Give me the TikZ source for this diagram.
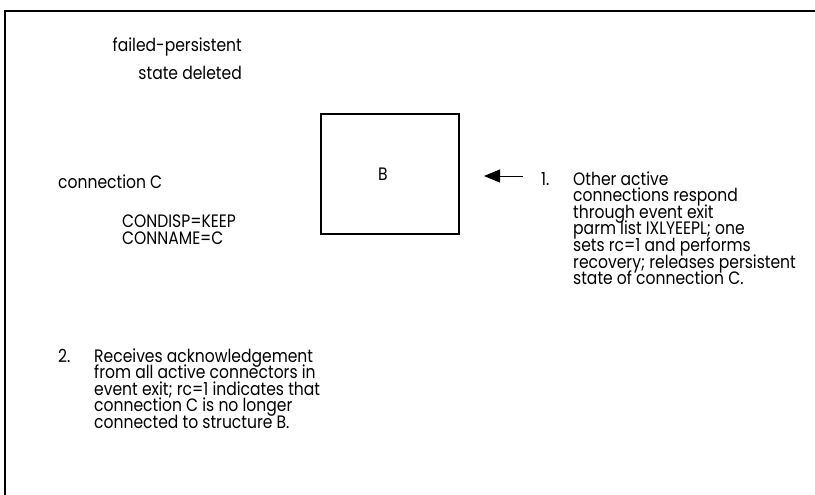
\documentclass[tikz,border=0pt]{standalone}
\usepackage{fontspec}
\setmainfont{Poppins}[FakeStretch=0.865]
\usetikzlibrary{arrows.meta}
\begin{document}
\begin{tikzpicture}[x=1pt,y=-1pt,
  lbl/.style={inner sep=0pt, font={\fontsize{18}{16.6}\selectfont\lineskiplimit=-50pt\relax}},
  para/.style={lbl, align=left, anchor=base west},
  frame/.style={line width=1.8pt, line cap=rect},
  boxst/.style={draw, line width=1.6pt, minimum width=138pt, minimum height=120pt, inner sep=0pt}]
\useasboundingbox (0,0) rectangle (815,495);
\coordinate (ftl) at (5,11);
\coordinate (ftr) at (815,11);
\coordinate (fbl) at (5,495);
\draw[frame] (ftr) -- (ftl) -- (fbl);
% base anchors of multi-line nodes sit on the last line's baseline
\node[lbl, anchor=base east, align=right, font={\fontsize{18}{28.5}\selectfont}] (fp) at (242,80) {failed-persistent\\state deleted};
\node[boxst] (B) at (390,174) {};
\node[lbl, anchor=base] (Bl) at (383,180) {B};
\node[lbl, anchor=base west] (cc) at (58,188) {connection C};
\node[para] (cd) at (122,244) {CONDISP=KEEP\\CONNAME=C};
\node[lbl, anchor=base west] (n1) at (541,185) {1.};
\node[para] (t1) at (573,284.6) {Other active\\connections respond\\through event exit\\parm list IXLYEEPL; one\\sets rc=1 and performs\\recovery; releases persistent\\state of connection C.};
\coordinate (as) at (523,176);
\coordinate (ae) at (484,176);
\draw[-{Triangle[length=16pt,width=13pt]}, line width=0.9pt] (as) -- (ae);
\node[lbl, anchor=base west] (n2) at (58,362) {2.};
\node[para] (t2) at (94,428.4) {Receives acknowledgement\\from all active connectors in\\event exit; rc=1 indicates that\\connection C is no longer\\connected to structure B.};
\end{tikzpicture}
\end{document}
